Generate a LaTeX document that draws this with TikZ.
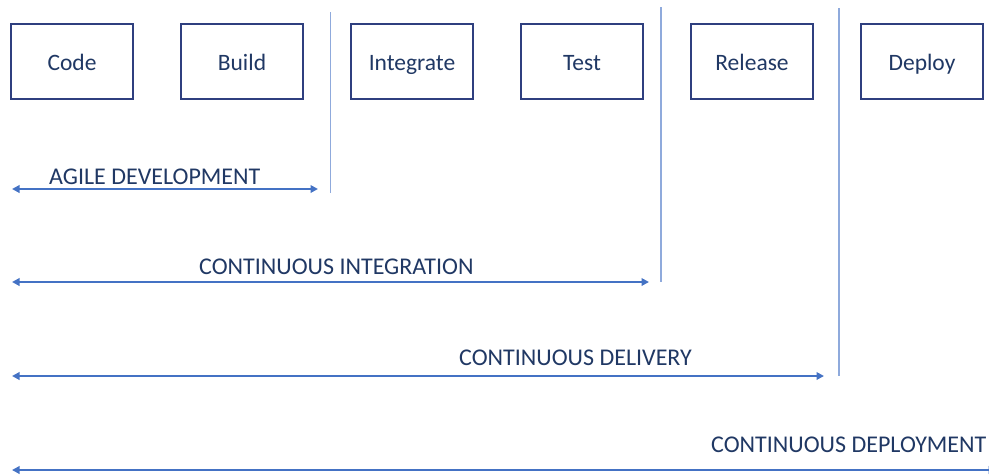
\documentclass[tikz,border=0pt]{standalone}
\usepackage{fontspec}
\setmainfont{Carlito}
\usetikzlibrary{arrows.meta}
\definecolor{txtc}{HTML}{203864}
\definecolor{boxc}{HTML}{2F3F7F}
\definecolor{vlinec}{HTML}{8FAADC}
\definecolor{arrc}{HTML}{4472C4}
\tikzset{
  stagebox/.style={draw=boxc, line width=1.5pt, minimum width=122pt, minimum height=75pt, inner sep=0pt,
    text height=22pt, text depth=3.6pt,
    text=txtc, font=\fontsize{23.5}{28}\selectfont},
  phase/.style={text=txtc, font=\fontsize{24}{28}\selectfont, inner sep=0pt, anchor=base west},
  divider/.style={draw=vlinec, line width=1.3pt},
  span/.style={draw=arrc, line width=2.4pt, {Triangle[length=7.5pt,width=7.5pt]}-{Triangle[length=7.5pt,width=7.5pt]}},
}
\begin{document}
\begin{tikzpicture}[x=1pt,y=-1pt]
\useasboundingbox (0,0) rectangle (989,475);
\clip (0,0) rectangle (989,475);
\fill[white] (0,0) rectangle (989,475);
% stage boxes
\node[stagebox] (code) at (72,61.5) {Code};
\node[stagebox] (build) at (242,61.5) {Build};
\node[stagebox] (integrate) at (412,61.5) {Integrate};
\node[stagebox] (test) at (582,61.5) {Test};
\node[stagebox] (release) at (752,61.5) {Release};
\node[stagebox] (deploy) at (922,61.5) {Deploy};
% dividers
\coordinate (d1t) at (330.5,12); \coordinate (d1b) at (330.5,193);
\coordinate (d2t) at (661,7); \coordinate (d2b) at (661,282);
\coordinate (d3t) at (839,8); \coordinate (d3b) at (839,376);
\draw[divider] (d1t) -- (d1b);
\draw[divider] (d2t) -- (d2b);
\draw[divider] (d3t) -- (d3b);
% spans
\coordinate (a1l) at (12,189); \coordinate (a1r) at (318,189);
\coordinate (a2l) at (12,282); \coordinate (a2r) at (649,282);
\coordinate (a3l) at (12,376); \coordinate (a3r) at (824,376);
\coordinate (a4l) at (12,470); \coordinate (a4r) at (996,470);
\draw[span] (a1l) -- (a1r);
\draw[span] (a2l) -- (a2r);
\draw[span] (a3l) -- (a3r);
\draw[span] (a4l) -- (a4r);
% labels
\node[phase] (agile) at (49,184) {AGILE DEVELOPMENT};
\node[phase] (ci) at (199,274) {CONTINUOUS INTEGRATION};
\node[phase] (cdel) at (459,365) {CONTINUOUS DELIVERY};
\node[phase] (cdep) at (711,452) {CONTINUOUS DEPLOYMENT};
\end{tikzpicture}
\end{document}
